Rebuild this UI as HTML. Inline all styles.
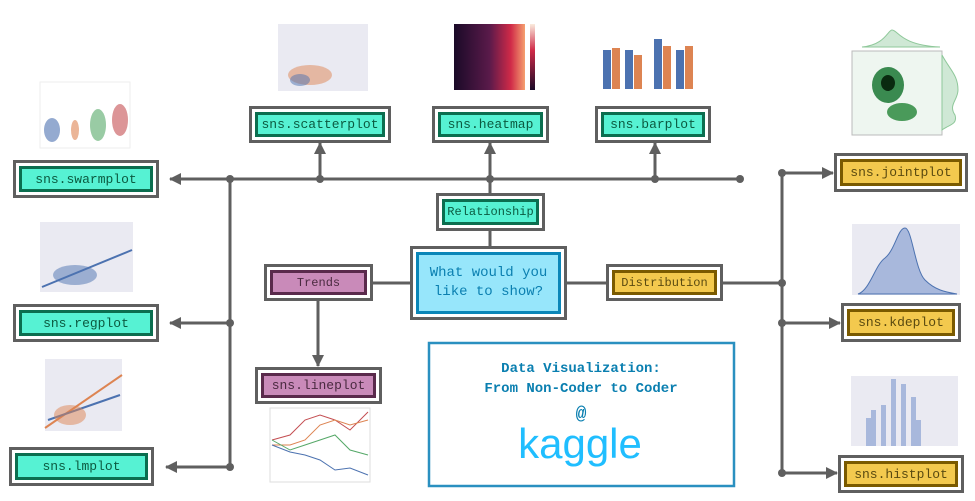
<!DOCTYPE html>
<html><head><meta charset="utf-8"><style>
body{margin:0;width:975px;height:501px;background:#fff;overflow:hidden;position:relative;font-family:"Liberation Mono",monospace}
.b{position:absolute;box-sizing:border-box;border:3px solid #5f5f5f;background:#fff;padding:3px}
.b>div{box-sizing:border-box;width:100%;height:100%;border:3px solid;display:flex;align-items:center;justify-content:center;font-size:13px;text-align:center}
.g>div{background:#56f2d3;border-color:#0b6e4f;color:#0b5a40}
.p>div{background:#c98ab9;border-color:#5a2a4c;color:#4a2a40}
.y>div{background:#f3c94e;border-color:#7a5a00;color:#5a4a10}
.c>div{background:#97e6fb;border-color:#0a86b8;color:#0a7fb0;font-size:14px;line-height:19px}
svg{position:absolute;left:0;top:0}
</style></head><body>
<svg width="975" height="501">
<defs><marker id="a" markerWidth="8" markerHeight="8" refX="6" refY="4" orient="auto" markerUnits="userSpaceOnUse"><path d="M0,0L8,4L0,8z" fill="#5f5f5f"/></marker>
<marker id="ar" markerWidth="12" markerHeight="12" refX="11" refY="6" orient="auto" markerUnits="userSpaceOnUse"><path d="M0,0L12,6L0,12z" fill="#5f5f5f"/></marker></defs>
<g stroke="#5f5f5f" stroke-width="3" fill="none">
<line x1="170" y1="179" x2="740" y2="179"/>
<line x1="230" y1="179" x2="230" y2="467"/>
<line x1="230" y1="179" x2="170" y2="179" marker-end="url(#ar)"/>
<line x1="230" y1="323" x2="170" y2="323" marker-end="url(#ar)"/>
<line x1="230" y1="467" x2="166" y2="467" marker-end="url(#ar)"/>
<line x1="320" y1="179" x2="320" y2="143" marker-end="url(#ar)"/>
<line x1="490" y1="179" x2="490" y2="143" marker-end="url(#ar)"/>
<line x1="655" y1="179" x2="655" y2="143" marker-end="url(#ar)"/>
<line x1="490" y1="179" x2="490" y2="195"/>
<line x1="490" y1="230" x2="490" y2="248"/>
<line x1="372" y1="283" x2="411" y2="283"/>
<line x1="565" y1="283" x2="607" y2="283"/>
<line x1="722" y1="283" x2="782" y2="283"/>
<line x1="318" y1="299" x2="318" y2="366" marker-end="url(#ar)"/>
<line x1="782" y1="173" x2="782" y2="473"/>
<line x1="782" y1="173" x2="833" y2="173" marker-end="url(#ar)"/>
<line x1="782" y1="323" x2="840" y2="323" marker-end="url(#ar)"/>
<line x1="782" y1="473" x2="837" y2="473" marker-end="url(#ar)"/>
</g>
<g fill="#5f5f5f">
<circle cx="230" cy="179" r="4"/><circle cx="320" cy="179" r="4"/><circle cx="490" cy="179" r="4"/><circle cx="655" cy="179" r="4"/><circle cx="740" cy="179" r="4"/>
<circle cx="230" cy="323" r="4"/><circle cx="230" cy="467" r="4"/>
<circle cx="782" cy="173" r="4"/><circle cx="782" cy="283" r="4"/><circle cx="782" cy="323" r="4"/><circle cx="782" cy="473" r="4"/>
</g>
<!-- swarm -->
<rect x="40" y="82" width="90" height="66" fill="#fff" stroke="#eee"/>
<g fill="#4c72b0"><ellipse cx="52" cy="130" rx="8" ry="12" opacity=".6"/></g>
<g fill="#dd8452"><ellipse cx="75" cy="130" rx="4" ry="10" opacity=".6"/></g>
<g fill="#55a868"><ellipse cx="98" cy="125" rx="8" ry="16" opacity=".6"/></g>
<g fill="#c44e52"><ellipse cx="120" cy="120" rx="8" ry="16" opacity=".6"/></g>
<!-- regplot -->
<rect x="40" y="222" width="93" height="70" fill="#eaeaf2"/>
<path d="M42,287 L132,250" stroke="#4c72b0" stroke-width="2"/>
<ellipse cx="75" cy="275" rx="22" ry="10" fill="#4c72b0" opacity=".5"/>
<!-- lmplot -->
<rect x="45" y="359" width="77" height="72" fill="#eaeaf2"/>
<path d="M45,428 L122,375" stroke="#dd8452" stroke-width="2"/><path d="M48,420 L120,395" stroke="#4c72b0" stroke-width="2"/>
<ellipse cx="70" cy="415" rx="16" ry="10" fill="#dd8452" opacity=".5"/>
<!-- scatter -->
<rect x="278" y="24" width="90" height="67" fill="#eaeaf2"/>
<ellipse cx="310" cy="75" rx="22" ry="10" fill="#dd8452" opacity=".5"/><ellipse cx="300" cy="80" rx="10" ry="6" fill="#4c72b0" opacity=".5"/>
<!-- heatmap -->
<defs><linearGradient id="h" x1="0" x2="1"><stop offset="0" stop-color="#1a0a28"/><stop offset=".5" stop-color="#5a1a4a"/><stop offset=".8" stop-color="#d02a48"/><stop offset="1" stop-color="#f5a070"/></linearGradient>
<linearGradient id="cb" x1="0" y1="1" x2="0" y2="0"><stop offset="0" stop-color="#1a0a28"/><stop offset=".6" stop-color="#d02a48"/><stop offset="1" stop-color="#faebdd"/></linearGradient></defs>
<rect x="454" y="24" width="71" height="66" fill="url(#h)"/><rect x="530" y="24" width="5" height="66" fill="url(#cb)"/>
<!-- barplot -->
<g fill="#4c72b0"><rect x="603" y="50" width="8" height="39"/><rect x="625" y="50" width="8" height="39"/><rect x="654" y="39" width="8" height="50"/><rect x="676" y="50" width="8" height="39"/></g>
<g fill="#dd8452"><rect x="612" y="48" width="8" height="41"/><rect x="634" y="55" width="8" height="34"/><rect x="663" y="46" width="8" height="43"/><rect x="685" y="46" width="8" height="43"/></g>
<!-- jointplot -->
<rect x="852" y="51" width="90" height="84" fill="#eef6f0" stroke="#bbb"/>
<path d="M862,47 C885,45 888,30 892,30 C898,30 900,45 940,47 Z" fill="#cfe8d5" stroke="#8fc89a"/>
<path d="M942,55 C950,70 958,75 958,90 C958,100 948,105 955,115 C958,125 948,125 942,130 Z" fill="#cfe8d5" stroke="#8fc89a"/>
<ellipse cx="888" cy="85" rx="16" ry="18" fill="#3a8a50"/><ellipse cx="888" cy="83" rx="7" ry="8" fill="#0a2a10"/>
<ellipse cx="902" cy="112" rx="15" ry="9" fill="#4a9a5a"/>
<!-- kde -->
<rect x="852" y="224" width="108" height="71" fill="#eaeaf2"/>
<path d="M858,294 C870,290 875,265 885,258 C895,250 898,228 905,228 C912,228 915,270 925,280 C935,290 945,292 957,294 Z" fill="#a8b8dc" stroke="#4c72b0"/>
<!-- hist -->
<rect x="851" y="376" width="107" height="70" fill="#eaeaf2"/>
<g fill="#a8b8dc"><rect x="866" y="418" width="5" height="28"/><rect x="871" y="410" width="5" height="36"/><rect x="881" y="405" width="5" height="41"/><rect x="891" y="379" width="5" height="67"/><rect x="901" y="384" width="5" height="62"/><rect x="911" y="397" width="5" height="49"/><rect x="916" y="420" width="5" height="26"/></g>
<!-- lineplot -->
<rect x="270" y="408" width="100" height="74" fill="#fff" stroke="#ddd"/>
<polyline points="272,440 290,435 305,420 320,415 335,420 350,430 368,412" fill="none" stroke="#c44e52"/>
<polyline points="272,445 290,445 305,440 320,425 335,420 350,425 368,420" fill="none" stroke="#dd8452"/>
<polyline points="272,440 290,450 305,445 320,440 335,435 350,450 368,455" fill="none" stroke="#55a868"/>
<polyline points="272,445 290,452 305,455 320,460 335,470 350,468 368,475" fill="none" stroke="#4c72b0"/>
<!-- kaggle box -->
<rect x="429" y="343" width="305" height="143" fill="none" stroke="#2a90c0" stroke-width="2.5"/>
<text x="581" y="372" text-anchor="middle" font-family="Liberation Mono" font-weight="bold" font-size="14" fill="#0a7fb0">Data Visualization:</text>
<text x="581" y="392" text-anchor="middle" font-family="Liberation Mono" font-weight="bold" font-size="14" fill="#0a7fb0">From Non-Coder to Coder</text>
<text x="581" y="419" text-anchor="middle" font-family="Liberation Mono" font-weight="bold" font-size="18" fill="#0a7fb0">@</text>
<text x="580" y="458" text-anchor="middle" font-family="Liberation Sans" font-size="42" fill="#20beff">kaggle</text>
</svg>
<div class="b g" style="left:13px;top:160px;width:146px;height:38px"><div>sns.swarmplot</div></div>
<div class="b g" style="left:13px;top:304px;width:146px;height:38px"><div>sns.regplot</div></div>
<div class="b g" style="left:9px;top:447px;width:145px;height:39px"><div>sns.lmplot</div></div>
<div class="b g" style="left:249px;top:106px;width:142px;height:37px"><div>sns.scatterplot</div></div>
<div class="b g" style="left:432px;top:106px;width:117px;height:37px"><div>sns.heatmap</div></div>
<div class="b g" style="left:595px;top:106px;width:116px;height:37px"><div>sns.barplot</div></div>
<div class="b g" style="left:436px;top:193px;width:109px;height:38px"><div style="font-size:12px">Relationship</div></div>
<div class="b p" style="left:264px;top:264px;width:109px;height:37px"><div style="font-size:12px">Trends</div></div>
<div class="b c" style="left:410px;top:246px;width:157px;height:74px"><div>What would you<br>like to show?</div></div>
<div class="b y" style="left:606px;top:264px;width:117px;height:37px"><div style="font-size:12px">Distribution</div></div>
<div class="b p" style="left:255px;top:367px;width:127px;height:37px"><div>sns.lineplot</div></div>
<div class="b y" style="left:834px;top:153px;width:134px;height:39px"><div>sns.jointplot</div></div>
<div class="b y" style="left:841px;top:303px;width:120px;height:39px"><div>sns.kdeplot</div></div>
<div class="b y" style="left:838px;top:455px;width:126px;height:38px"><div>sns.histplot</div></div>
</body></html>
